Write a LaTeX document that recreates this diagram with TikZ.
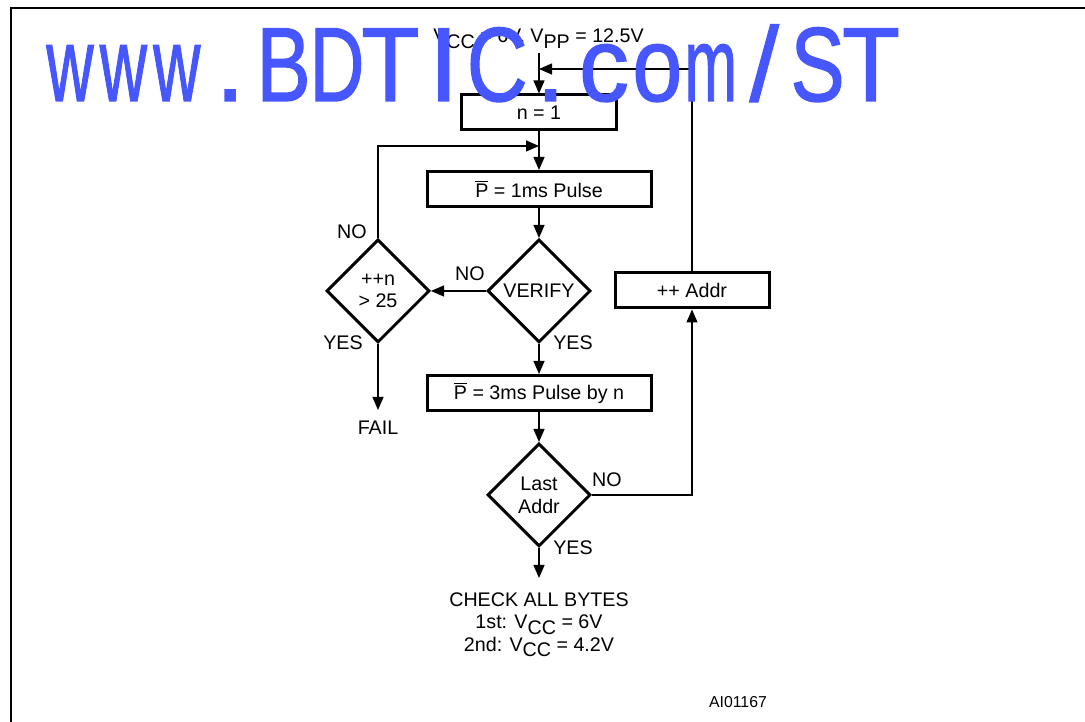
\documentclass[tikz,border=0pt]{standalone}
\usepackage{fontspec}
\setmainfont{Liberation Sans}
\newfontfamily\markfont[FakeBold=1.3]{Liberation Sans}
\usetikzlibrary{arrows.meta,shapes.geometric,positioning}
\definecolor{r70g87b255}{RGB}{70,87,255}
\newcommand{\lowsub}[1]{\raisebox{-0.5ex}{#1}}
\newcommand{\Pbar}{$\overline{\mbox{P}}$}
\newcommand{\slashch}{/}

\begin{document}
\begin{tikzpicture}[
    every node/.style={font=\fontsize{11.2}{13}\selectfont},
    stepbox/.style={draw, line width=0.06cm, minimum height=0.70cm, inner sep=0pt},
    testbox/.style={draw, diamond, aspect=1, line width=0.06cm, minimum width=2.06cm,
        minimum height=2.06cm, inner sep=0pt, align=center},
    flow/.style={line width=0.026cm},
    flowarrow/.style={flow, -{Triangle[length=0.26cm,width=0.22cm]}},
    branchlabel/.style={inner sep=0pt}
]
\useasboundingbox (0,0) rectangle (21.7,14.44);

% Drawing frame
\draw [line width=0.04cm] (0.22,-0.1) -- (0.22,14.28) -- (21.8,14.28);

% Marking supply text
\node [anchor=base] (supply) at (10.77,13.58) {V\lowsub{CC} = 6V, V\lowsub{PP} = 12.5V};
\coordinate (start) at (10.78,13.38);
\coordinate (join1) at (10.78,13.06);
\coordinate (join2) at (10.78,11.52);

% Drawing steps
\node [stepbox, minimum width=3.10cm] (n1) at (10.78,12.19) {n = 1};
\node [stepbox, minimum width=4.48cm] (P1) at (10.78,10.66) {\Pbar\ = 1ms Pulse};
\node [testbox] (verify) at (10.78,8.62) {VERIFY};
\node [testbox] (incr) at (7.56,8.62) {++n\\> 25};
\node [stepbox, minimum width=4.48cm] (P3) at (10.78,6.58) {\Pbar\ = 3ms Pulse by n};
\node [testbox] (last) at (10.78,4.54) {Last\\Addr};
\node [stepbox, minimum width=3.08cm] (addr) at (13.84,8.63) {++ Addr};
\node [anchor=north, inner xsep=0pt, inner ysep=0.22cm] (fail) at (7.56,6.24) {FAIL};
\node [anchor=north, inner xsep=0pt, inner ysep=0.28cm, align=center] (checks) at (10.78,2.88)
    {CHECK ALL BYTES\\1st: V\lowsub{CC} = 6V\\2nd: V\lowsub{CC} = 4.2V};

% Drawing connectors
\draw [flowarrow] (start) -- (n1.north);
\draw [flowarrow] (addr.north) |- (join1);
\draw [flow] (n1.south) -- (join2);
\draw [flowarrow] (incr.north) |- (join2);
\draw [flowarrow] (join2) -- (P1.north);
\draw [flowarrow] (P1.south) -- (verify.north);
\draw [flowarrow] (verify.west) -- (incr.east);
\draw [flowarrow] (incr.south) -- (fail.north);
\draw [flowarrow] (verify.south) -- (P3.north);
\draw [flowarrow] (P3.south) -- (last.north);
\draw [flowarrow] (last.east) -| (addr.south);
\draw [flowarrow] (last.south) -- (checks.north);

% Marking branch labels
\node [branchlabel] (noverify) at (9.40,8.96) {NO};
\node [branchlabel] (noincr) at (7.04,9.80) {NO};
\node [branchlabel] (yesincr) at (6.86,7.58) {YES};
\node [branchlabel] (yesverify) at (11.46,7.58) {YES};
\node [branchlabel] (nolast) at (12.14,4.84) {NO};
\node [branchlabel] (yeslast) at (11.46,3.48) {YES};
\node [branchlabel, font=\fontsize{9}{11}\selectfont] (figid) at (14.76,0.40) {AI01167};

% Drawing watermark
\foreach \ch/\sx [count=\i from 0] in {w/0.62,w/0.62,w/0.62,./1,B/0.77,D/0.72,T/0.9,I/1,
        C/0.8,./1,c/0.95,o/0.85,m/0.6,\slashch/1,S/0.77,T/0.9}
    \node [anchor=base, inner sep=0pt, xscale=\sx, text=r70g87b255,
        font=\markfont\fontsize{60}{60}\selectfont] (wm\i) at (1.40+1.068*\i,12.42) {\ch};
\end{tikzpicture}
\end{document}
